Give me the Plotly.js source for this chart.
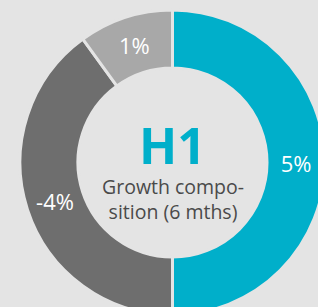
<!DOCTYPE html>
<html>
<head>
<meta charset="utf-8">
<script src="https://cdn.plot.ly/plotly-3.0.1.min.js"></script>
<style>
html,body{margin:0;padding:0;overflow:hidden;background:#e4e4e4;}
#chart{width:330px;height:330px;}
</style>
</head>
<body>
<div id="chart"></div>
<script>
const categories = ["Positive", "Negative", "Other"];
const growthValues = [5, -4, 1];
const sliceLabels = ["5%", "-4%", "1%"];
const centerTitle = "H1";
const centerSubtitle = "Growth compo-<br>sition (6 mths)";

const colors = ["#00afca", "#6e6e6e", "#a8a8a8"];
const bg = "#e4e4e4";

const trace = {
  type: "pie",
  labels: categories,
  values: growthValues.map(v => Math.abs(v)),
  text: sliceLabels,
  textinfo: "text",
  textposition: "inside",
  insidetextorientation: "horizontal",
  hole: 0.62,
  sort: false,
  direction: "clockwise",
  rotation: 0,
  marker: {colors: colors, line: {color: bg, width: 3}},
  textfont: {family: "Open Sans", size: 22, color: "#ffffff"},
  showlegend: false,
  hoverinfo: "none"
};

const layout = {
  width: 330,
  height: 330,
  margin: {l: 20, r: 5, t: 10, b: 15},
  paper_bgcolor: bg,
  plot_bgcolor: bg,
  showlegend: false,
  uniformtext: {mode: "show", minsize: 22},
  annotations: [
    {text: centerTitle, x: 0.5, y: 0.557, xref: "paper", yref: "paper", showarrow: false,
     font: {family: "Open Sans", size: 50, color: "#00afca", weight: 700}},
    {text: centerSubtitle, x: 0.5, y: 0.38, xref: "paper", yref: "paper", showarrow: false,
     font: {family: "Open Sans", size: 19.5, color: "#4a4a4a"}}
  ]
};

Plotly.newPlot("chart", [trace], layout, {displayModeBar: false, staticPlot: true});
</script>
</body>
</html>
